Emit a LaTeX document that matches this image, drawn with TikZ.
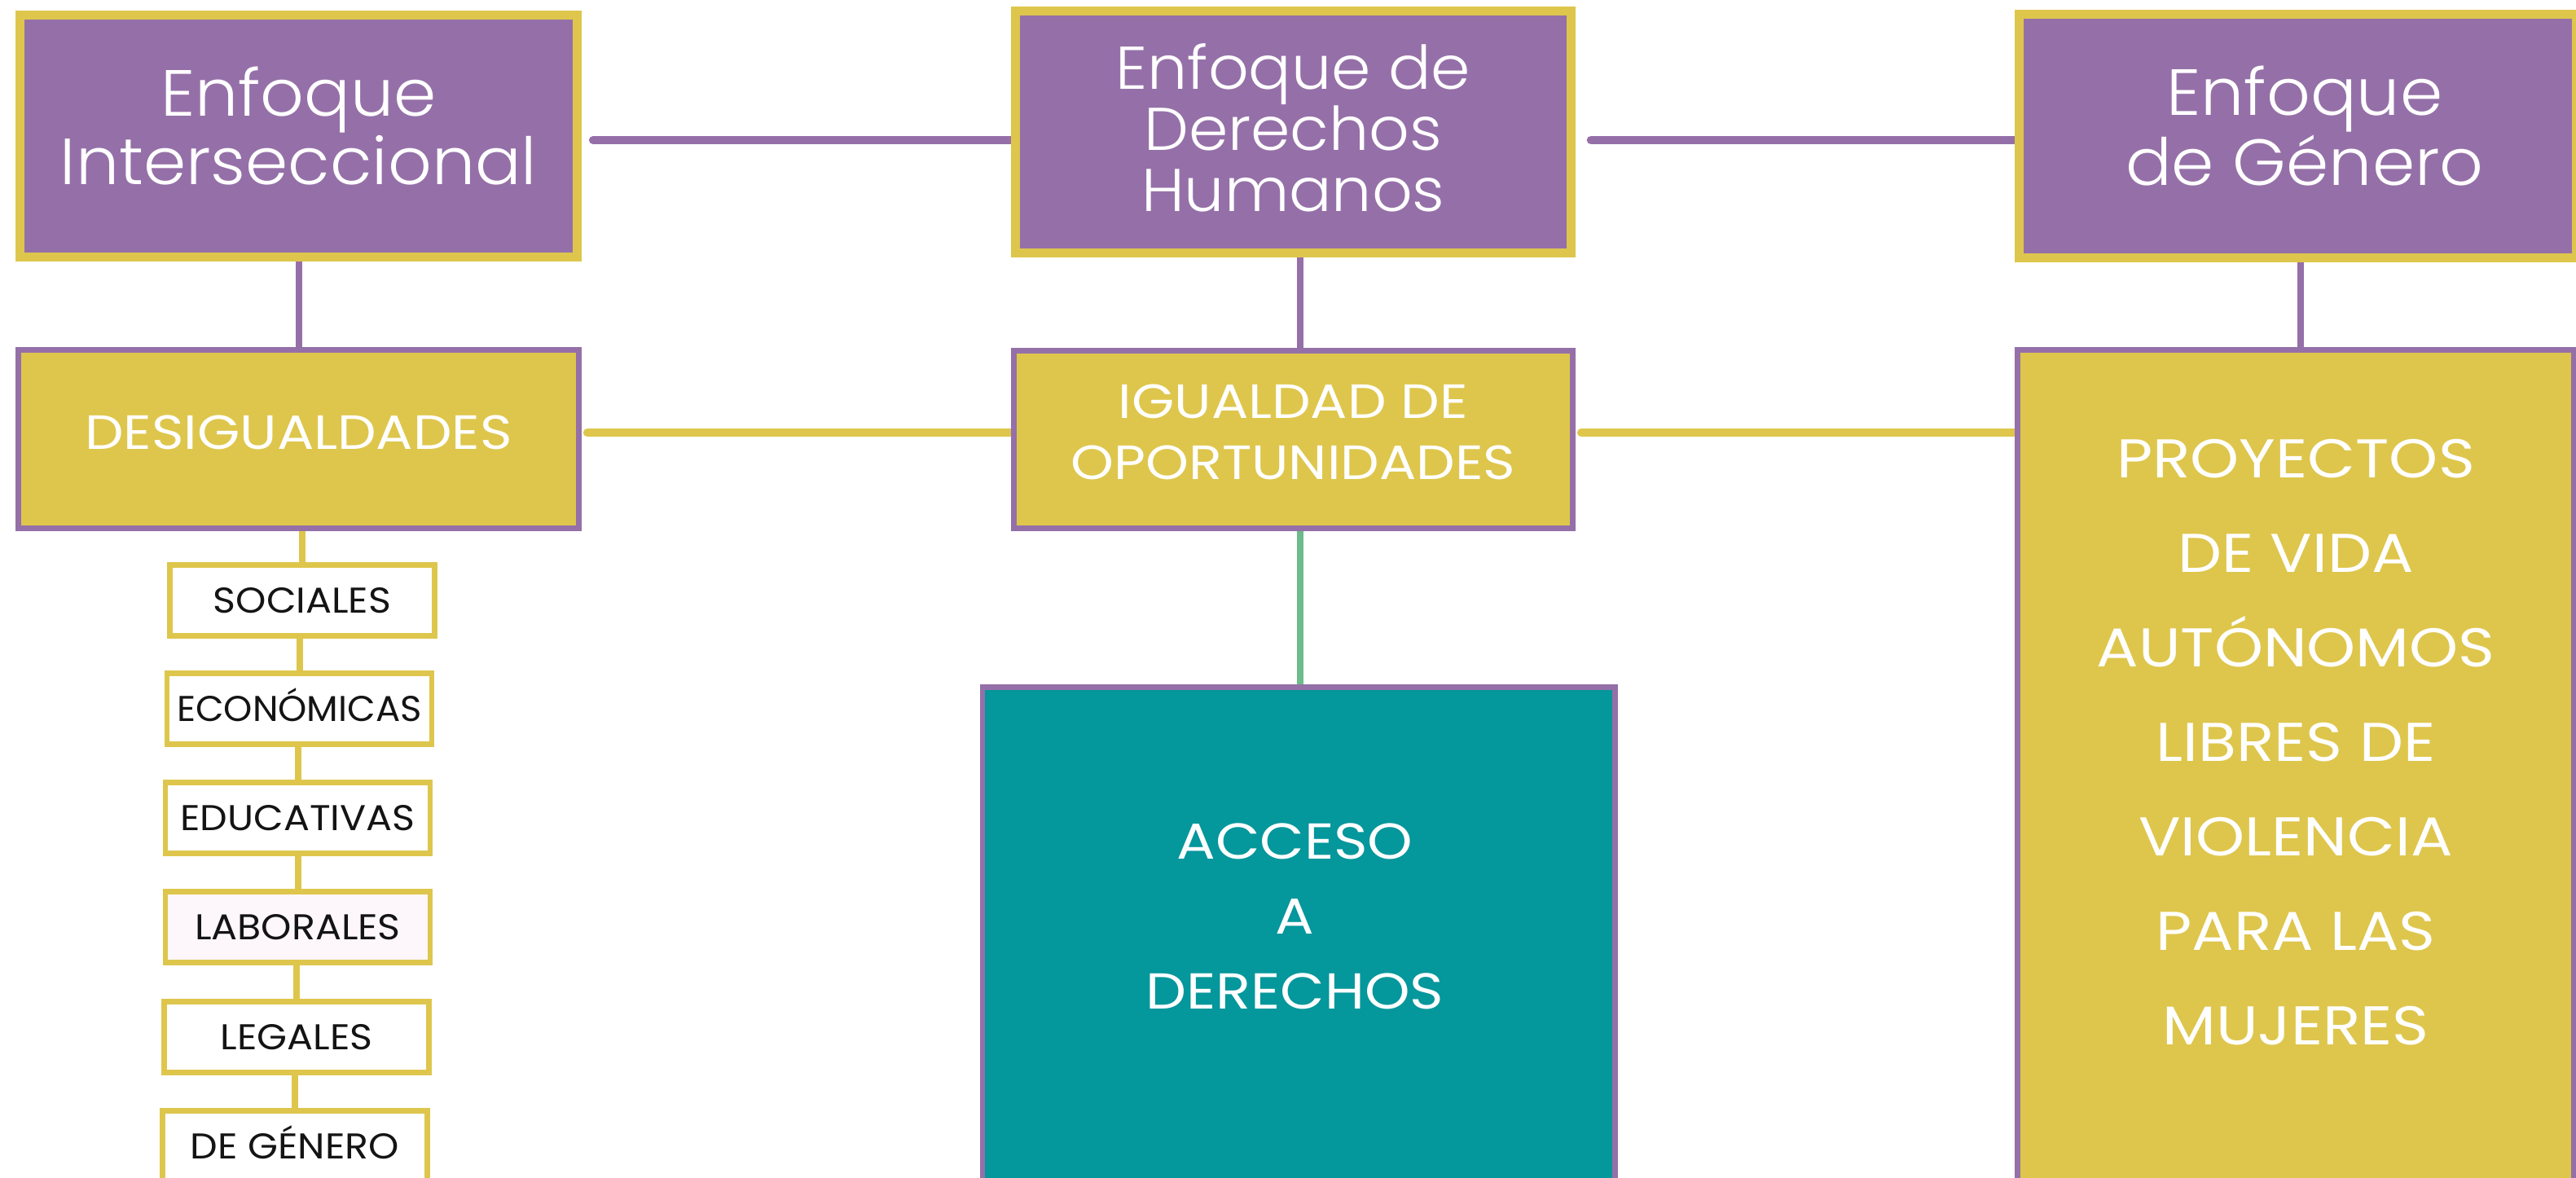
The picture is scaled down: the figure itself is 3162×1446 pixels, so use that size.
\documentclass[tikz,border=0pt]{standalone}
\usepackage{fontspec}
\setmainfont{Poppins}
\newfontfamily\plight[FakeStretch=1.05]{Poppins Light}
\newfontfamily\capsfont[FakeStretch=1.14]{Poppins}
\newfontfamily\smallfont[FakeStretch=1.08]{Poppins}
\newfontfamily\smallnarrow[FakeStretch=1.02]{Poppins}
\usetikzlibrary{backgrounds}
\definecolor{mypur}{HTML}{9570A8}
\definecolor{myyel}{HTML}{DEC64C}
\definecolor{myteal}{HTML}{04979C}
\definecolor{mygreen}{HTML}{6DBB8C}
\definecolor{mypink}{HTML}{FDF7FC}
\tikzset{
  box/.style={rectangle,inner sep=0pt,outer sep=0pt},
  titlebox/.style={box,draw=myyel,fill=mypur,line width=2.75pt},
  midbox/.style={box,draw=mypur,fill=myyel,line width=1.75pt},
  smallbox/.style={box,draw=myyel,fill=white,line width=1.7pt,minimum width=81.25pt,minimum height=21.75pt,
    text=black!92,font=\smallfont\fontsize{11}{11}\selectfont,text height=7.7pt,text depth=0pt},
  titletext/.style={text=white,align=center,inner sep=0pt,font=\plight\fontsize{20}{20}\selectfont},
  whitetext/.style={text=white,align=center,inner sep=0pt},
  pline/.style={draw=mypur,line width=2.6pt,line cap=round},
  vline/.style={draw=mypur,line width=2pt,line cap=round},
  yline/.style={draw=myyel,line width=2.5pt,line cap=round},
  syline/.style={draw=myyel,line width=2pt,line cap=round},
  gline/.style={draw=mygreen,line width=1.8pt,line cap=round}
}
\begin{document}
\begin{tikzpicture}[x=0.25pt,y=-0.25pt]
\useasboundingbox (0,0) rectangle (3162,1446);
\clip (0,0) rectangle (3162,1446);

% top row
\node[titlebox,minimum width=171pt,minimum height=74.375pt,
  label={[titletext,name=eit,yshift=3.06pt]center:Enfoque\\Interseccional}] (ei) at (366.5,166.75) {};
\node[titlebox,minimum width=170.6pt,minimum height=74.375pt,
  label={[titletext,name=edht,yshift=1.2pt,font=\plight\fontsize{18.5}{18.75}\selectfont]center:Enfoque de\\Derechos\\Humanos}] (edh) at (1587.3,161.75) {};
\node[titlebox,minimum width=171pt,minimum height=74.625pt,
  label={[titletext,name=egt,yshift=3.1pt,xshift=2.1pt]center:Enfoque\\de Género}] (eg) at (2820.5,167) {};

% second row
\node[midbox,minimum width=172pt,minimum height=54.75pt,
  label={[whitetext,name=dest,yshift=2.1pt,font=\capsfont\fontsize{14.75}{18.75}\selectfont,text height=10.3pt,text depth=0pt]center:DESIGUALDADES}] (des) at (366.5,539) {};
\node[midbox,minimum width=171.6pt,minimum height=54.5pt,
  label={[whitetext,name=idot,yshift=2.25pt,font=\capsfont\fontsize{14.75}{18.75}\selectfont]center:IGUALDAD DE\\OPORTUNIDADES}] (ido) at (1587.3,539) {};
\node[midbox,minimum width=170.75pt,minimum height=292.625pt,
  label={[whitetext,name=pvt,yshift=25.8pt,font=\capsfont\fontsize{16.75}{29}\selectfont]center:PROYECTOS\\DE VIDA\\AUTÓNOMOS\\LIBRES DE\\VIOLENCIA\\PARA LAS\\MUJERES}] (pv) at (2818,1014.75) {};

% access box
\node[box,draw=mypur,fill=myteal,line width=1.7pt,minimum width=194.125pt,minimum height=189.125pt,
  label={[whitetext,name=adt,yshift=24.2pt,xshift=-1.2pt,font=\capsfont\fontsize{15.5}{23}\selectfont]center:ACCESO\\A\\DERECHOS}] (ad) at (1594.25,1221.75) {};

% small boxes
\node[smallbox] (soc) at (371,737) {SOCIALES};
\node[smallbox,font=\smallnarrow\fontsize{11}{11}\selectfont] (eco) at (367.5,870.25) {ECONÓMICAS};
\node[smallbox] (edu) at (365.5,1004) {EDUCATIVAS};
\node[smallbox,fill=mypink] (lab) at (365.5,1138) {LABORALES};
\node[smallbox] (leg) at (364,1273) {LEGALES};
\node[smallbox] (gen) at (362,1407) {DE GÉNERO};

\coordinate (hA) at (0,172);
\coordinate (hB) at (0,531);
\coordinate (vA) at (1596,0);
\coordinate (vB) at (2824,0);

\begin{scope}[on background layer]
  \fill[white] (0,0) rectangle (3162,1446);
  \draw[pline,shorten <=4.9pt] (ei.east |- hA) -- (edh.west |- hA);
  \draw[pline,shorten <=6.1pt] (edh.east |- hA) -- (eg.west |- hA);
  \draw[yline,shorten <=2.6pt] (des.east |- hB) -- (ido.west |- hB);
  \draw[yline,shorten <=2.6pt] (ido.east |- hB) -- (pv.west |- hB);
  \draw[vline] (ei.south) -- (des.north);
  \draw[vline] (edh.south -| vA) -- (ido.north -| vA);
  \draw[vline] (eg.south -| vB) -- (pv.north -| vB);
  \draw[gline] (ido.south -| vA) -- (ad.north -| vA);
  \draw[syline] (des.south -| soc.north) -- (soc.north);
  \draw[syline] (soc.south -| eco.north) -- (eco.north);
  \draw[syline] (eco.south -| edu.north) -- (edu.north);
  \draw[syline] (edu.south) -- (lab.north);
  \draw[syline] (lab.south -| leg.north) -- (leg.north);
  \draw[syline] (leg.south -| gen.north) -- (gen.north);
\end{scope}
\end{tikzpicture}
\end{document}
